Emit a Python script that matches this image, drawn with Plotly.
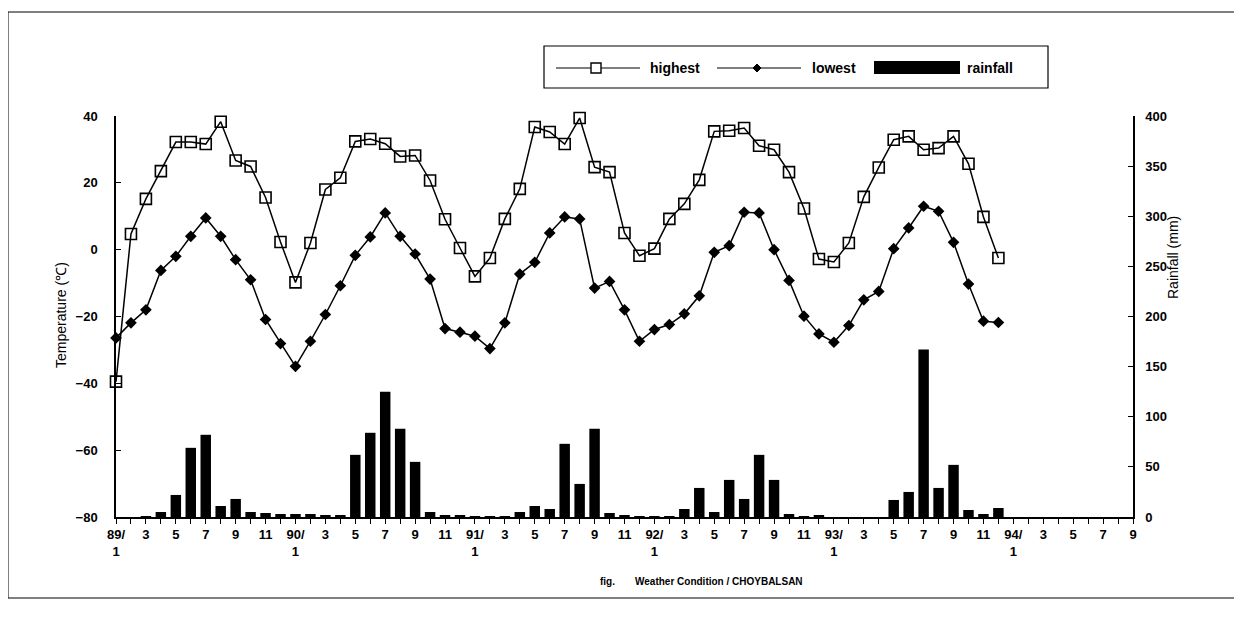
import plotly.graph_objects as go

# ---------------- data ----------------
months = [f"{y}-{m:02d}" for y in range(1989, 1995) for m in range(1, 13)][:69]  # 89/1 .. 94/9

highest = [-39.5, 4.7, 15.2, 23.5, 32.2, 32.2, 31.6, 38.3, 26.7, 24.9, 15.6, 2.3,
           -9.8, 2.0, 18.0, 21.5, 32.4, 33.1, 31.7, 27.9, 28.2, 20.7, 9.1, 0.5,
           -8.0, -2.5, 9.2, 18.2, 36.7, 35.2, 31.6, 39.4, 24.7, 23.2, 5.0, -1.8,
           0.3, 9.2, 13.7, 20.9, 35.4, 35.6, 36.4, 31.1, 29.9, 23.2, 12.3, -2.8,
           -3.7, 2.0, 15.8, 24.6, 32.9, 33.9, 29.9, 30.4, 33.9, 25.7, 9.8, -2.5]

lowest = [-26.4, -21.9, -18.0, -6.2, -2.0, 4.0, 9.5, 4.0, -3.0, -9.0, -20.9, -28.1,
          -34.9, -27.4, -19.4, -10.8, -1.7, 3.8, 11.0, 4.0, -1.3, -8.8, -23.6, -24.7,
          -25.9, -29.6, -21.9, -7.3, -3.8, 5.0, 9.8, 9.2, -11.5, -9.5, -18.0, -27.4,
          -23.9, -22.4, -19.2, -13.8, -0.8, 1.2, 11.2, 11.0, 0.0, -9.2, -19.9, -25.2,
          -27.7, -22.7, -15.0, -12.5, 0.3, 6.5, 13.0, 11.5, 2.2, -10.3, -21.4, -21.8]

rainfall = [0, 0, 1, 5, 22, 69, 82, 11, 18, 5, 4, 3,
            3, 3, 1.5, 2, 62, 84, 125, 88, 55, 5, 2, 2,
            1, 1, 1, 5, 11, 8, 73, 33, 88, 4, 2, 0.5,
            0.5, 0.5, 8, 29, 5, 37, 18, 62, 37, 3, 1, 2,
            0, 0, 0, 0, 17, 25, 167, 29, 52, 7, 3, 9]

tick_text = []
for i, mo in enumerate(months):
    y, m = mo.split("-")
    m = int(m)
    if m == 1:
        tick_text.append(f"{y[2:]}/<br>1")
    elif m % 2 == 1:
        tick_text.append(str(m))
    else:
        tick_text.append("")

# ---------------- layout geometry (page pixels; page body has 8px margin) ----------------
OFF = 8
W, H = 1242 - OFF, 620 - OFF
L, R, T, B = 116, 1133, 116, 517   # plot area in page pixels


def px(x):
    return (x - L) / (R - L)


def py(y):
    return (B - y) / (B - T)


FONT = "Liberation Sans, Arial, sans-serif"

fig = go.Figure()

fig.add_trace(go.Bar(
    x=months[:len(rainfall)], y=rainfall, name="rainfall", yaxis="y2",
    marker=dict(color="black", line=dict(width=0)), width=0.7,
))
fig.add_trace(go.Scatter(
    x=months[:len(highest)], y=highest, name="highest", mode="lines+markers",
    line=dict(color="black", width=1.5),
    marker=dict(symbol="square-open", size=11, color="black", line=dict(width=1.6)),
    cliponaxis=False,
))
fig.add_trace(go.Scatter(
    x=months[:len(lowest)], y=lowest, name="lowest", mode="lines+markers",
    line=dict(color="black", width=1.5),
    marker=dict(symbol="diamond", size=9, color="black"),
    cliponaxis=False,
))

shapes = []
annotations = []

# outer frame
shapes.append(dict(type="rect", xref="paper", yref="paper",
                   x0=px(8), x1=px(1236), y0=py(598), y1=py(12),
                   line=dict(color="black", width=1)))
# legend box
shapes.append(dict(type="rect", xref="paper", yref="paper",
                   x0=px(544), x1=px(1048), y0=py(88), y1=py(46),
                   line=dict(color="black", width=1.2), fillcolor="white"))
ly = 68
# highest sample
shapes.append(dict(type="line", xref="paper", yref="paper",
                   x0=px(556), x1=px(640), y0=py(ly), y1=py(ly),
                   line=dict(color="black", width=1.2)))
shapes.append(dict(type="rect", xref="paper", yref="paper",
                   x0=px(591), x1=px(601), y0=py(ly + 5), y1=py(ly - 5),
                   line=dict(color="black", width=1.4), fillcolor="white"))
# lowest sample
shapes.append(dict(type="line", xref="paper", yref="paper",
                   x0=px(717), x1=px(801), y0=py(ly), y1=py(ly),
                   line=dict(color="black", width=1.2)))
shapes.append(dict(type="path", xref="paper", yref="paper",
                   path=f"M {px(757)},{py(ly - 4)} L {px(761)},{py(ly)} L {px(757)},{py(ly + 4)} L {px(753)},{py(ly)} Z",
                   line=dict(color="black", width=1), fillcolor="black"))
# rainfall sample
shapes.append(dict(type="rect", xref="paper", yref="paper",
                   x0=px(874), x1=px(960), y0=py(74), y1=py(61),
                   line=dict(color="black", width=0), fillcolor="black"))

leg_font = dict(family=FONT, size=14, color="black", weight="bold")
for txt, xx in [("highest", 648), ("lowest", 810), ("rainfall", 965)]:
    annotations.append(dict(text=txt, xref="paper", yref="paper", x=px(xx), y=py(ly),
                            xanchor="left", yanchor="middle", showarrow=False, font=leg_font))

# caption
cap_font = dict(family=FONT, size=10, color="black", weight="bold")
annotations.append(dict(text="fig.", xref="paper", yref="paper", x=px(598), y=py(581),
                        xanchor="left", yanchor="middle", showarrow=False, font=cap_font))
annotations.append(dict(text="Weather Condition / CHOYBALSAN", xref="paper", yref="paper",
                        x=px(633), y=py(581), xanchor="left", yanchor="middle",
                        showarrow=False, font=cap_font))

# axis titles
annotations.append(dict(text="Temperature (℃)", xref="paper", yref="paper", x=px(61), y=py(315),
                        xanchor="center", yanchor="middle", textangle=-90, showarrow=False,
                        font=dict(family=FONT, size=14, color="black")))
annotations.append(dict(text="Rainfall (mm)", xref="paper", yref="paper", x=px(1173), y=py(258),
                        xanchor="center", yanchor="middle", textangle=-90, showarrow=False,
                        font=dict(family=FONT, size=14, color="black")))

tick_font = dict(family=FONT, size=13, color="black", weight="bold")

fig.update_layout(
    width=W, height=H,
    margin=dict(l=L - OFF, r=W - (R - OFF), t=T - OFF, b=H - (B - OFF), pad=0),
    paper_bgcolor="white", plot_bgcolor="white",
    showlegend=False,
    bargap=0.3,
    shapes=shapes, annotations=annotations,
    xaxis=dict(
        type="category", categoryorder="array", categoryarray=months,
        range=[0, len(months) - 1],
        tickmode="array", tickvals=months, ticktext=tick_text,
        ticks="outside", ticklen=5, tickwidth=1, tickcolor="black",
        showline=True, linecolor="black", linewidth=1.5,
        showgrid=False, zeroline=False, tickfont=tick_font, tickangle=0,
    ),
    yaxis=dict(
        range=[-80, 40], tickvals=[-80, -60, -40, -20, 0, 20, 40],
        ticks="inside", ticklen=5, tickcolor="black",
        showline=True, linecolor="black", linewidth=1.5,
        showgrid=False, zeroline=False, tickfont=tick_font,
        ticklabelstandoff=14,
    ),
    yaxis2=dict(
        overlaying="y", side="right", anchor="x",
        range=[0, 400], tickvals=[0, 50, 100, 150, 200, 250, 300, 350, 400],
        ticks="inside", ticklen=5, tickcolor="black",
        showline=True, linecolor="black", linewidth=1.5,
        showgrid=False, zeroline=False, tickfont=tick_font,
        ticklabelstandoff=8,
    ),
)

fig.write_html("out.html")
